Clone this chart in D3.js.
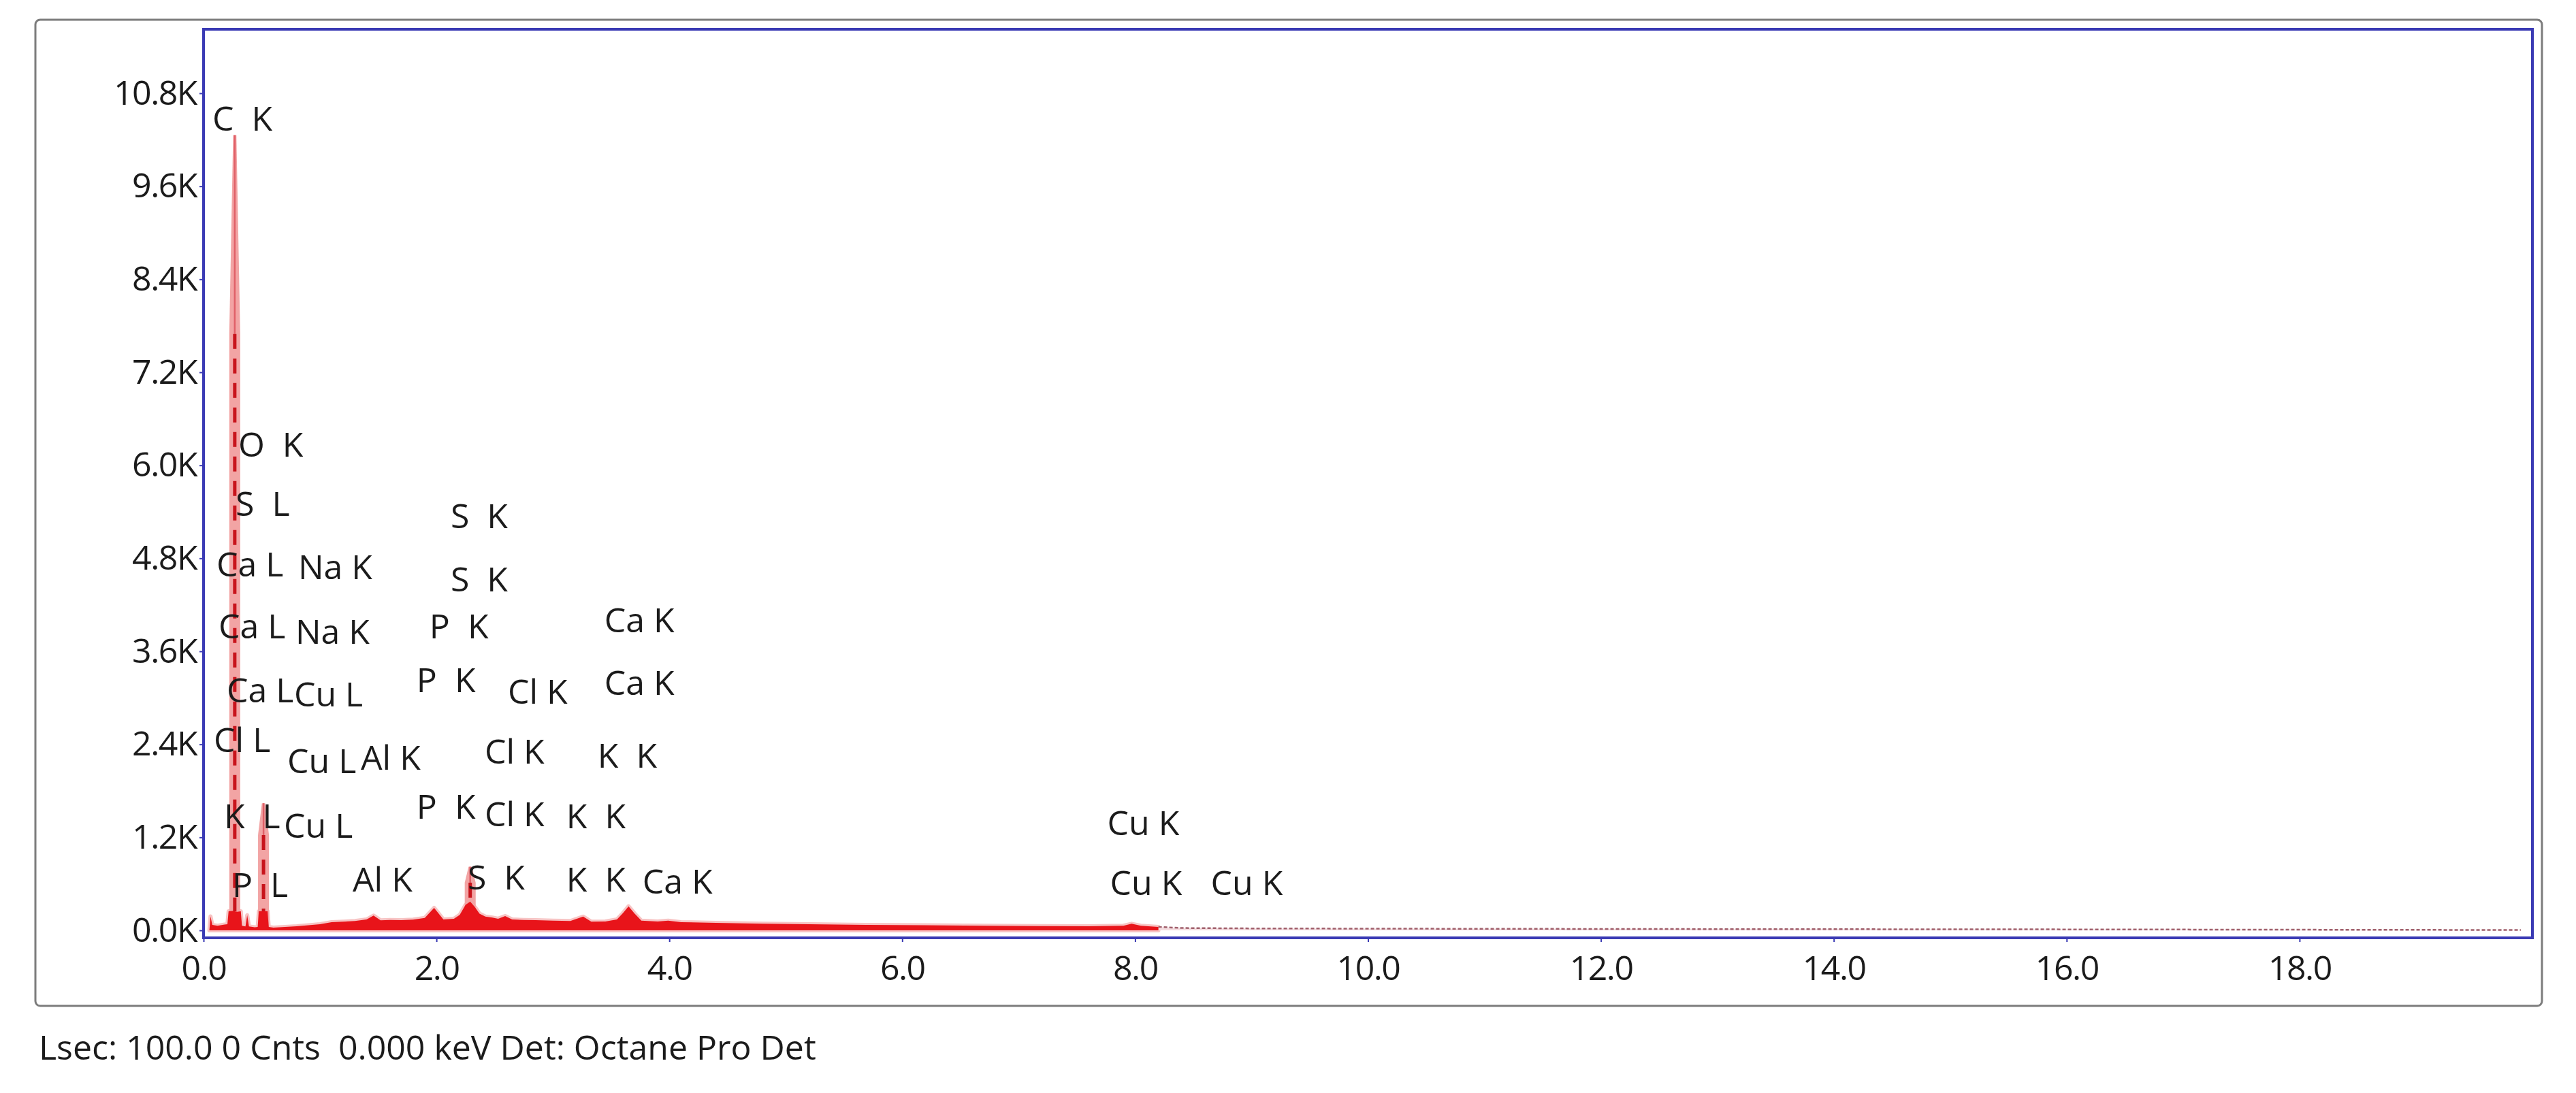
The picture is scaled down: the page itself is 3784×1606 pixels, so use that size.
<!DOCTYPE html>
<html>
<head>
<meta charset="utf-8">
<script src="https://cdn.jsdelivr.net/npm/d3@7"></script>
<style>
  body { margin: 0; background: #fff; }
  svg text { font-family: "Open Sans", "Noto Sans", sans-serif; fill: #1b1b1b; white-space: pre; }
</style>
</head>
<body>
<svg width="3784" height="1606"></svg>
<script>
// EDS spectrum (keV, counts)
var energy = [0.05, 0.06, 0.075, 0.12, 0.18, 0.205, 0.215, 0.25, 0.29, 0.32, 0.33, 0.36, 0.375, 0.39, 0.44,
  0.465, 0.475, 0.55, 0.56, 0.6, 0.7, 0.8, 0.9, 1.0, 1.1, 1.2, 1.3, 1.4, 1.46, 1.52, 1.6, 1.7, 1.8, 1.9,
  1.98, 2.06, 2.15, 2.2, 2.25, 2.29, 2.33, 2.37, 2.42, 2.48, 2.53, 2.59, 2.65, 2.75, 2.85, 3.0, 3.15,
  3.26, 3.33, 3.45, 3.55, 3.6, 3.65, 3.7, 3.76, 3.9, 3.99, 4.1, 4.4, 4.8, 5.2, 5.7, 6.2, 6.7, 7.2, 7.6,
  7.9, 7.97, 8.05, 8.2];
var counts = [0, 180, 70, 60, 75, 80, 246, 250, 240, 246, 60, 50, 196, 50, 40,
  45, 246, 246, 45, 35, 45, 52, 65, 80, 105, 112, 120, 140, 190, 130, 135, 132, 138, 160,
  290, 140, 150, 200, 330, 370, 300, 215, 178, 165, 150, 184, 140, 135, 132, 126, 120,
  178, 112, 115, 140, 220, 310, 220, 125, 115, 125, 105, 97, 85, 79, 70, 65, 60, 55, 52,
  60, 85, 60, 45];
// faint high-energy tail
var tailEnergy = [8.2, 8.4, 9.0, 10.0, 11.0, 12.0, 13.0, 14.0, 15.0, 16.0, 17.0, 18.0, 19.0, 19.9];
var tailCounts = [45, 30, 25, 22, 20, 18, 16, 15, 13, 12, 10, 8, 6, 4];

// narrow peaks
var peakKeV = [0.268, 0.515, 2.29];
var peakCounts = [10260, 1640, 820];
var peakBase = [246, 246, 370];

// peak labels: left edge (keV) and baseline (counts)
var labelText = ["C  K", "O  K", "S  L", "S  K", "Ca L", "Na K", "S  K", "Ca L", "Na K", "P  K", "Ca K",
  "Ca L", "Cu L", "P  K", "Cl K", "Ca K", "Cl L", "Cu L", "Al K", "Cl K", "K  K", "K  L", "Cu L", "P  K",
  "Cl K", "K  K", "Al K", "S  K", "K  K", "Ca K", "P  L", "Cu K", "Cu K", "Cu K"];
var labelKeV = [0.076, 0.298, 0.275, 2.122, 0.111, 0.812, 2.122, 0.129, 0.789, 1.940, 3.442,
  0.199, 0.777, 1.829, 2.613, 3.442, 0.088, 0.719, 1.350, 2.414, 3.384, 0.175, 0.690, 1.829,
  2.414, 3.115, 1.280, 2.268, 3.115, 3.770, 0.245, 7.761, 7.785, 8.650];
var labelCounts = [10320, 6110, 5350, 5190, 4570, 4530, 4370, 3770, 3700, 3770, 3850,
  2940, 2890, 3070, 2920, 3040, 2300, 2030, 2070, 2150, 2100, 1320, 1190, 1440,
  1340, 1320, 500, 530, 500, 470, 430, 1230, 460, 460];

var xTicks = [0, 2, 4, 6, 8, 10, 12, 14, 16, 18];
var xTickLabels = ["0.0", "2.0", "4.0", "6.0", "8.0", "10.0", "12.0", "14.0", "16.0", "18.0"];
var yTicks = [0, 1200, 2400, 3600, 4800, 6000, 7200, 8400, 9600, 10800];
var yTickLabels = ["0.0K", "1.2K", "2.4K", "3.6K", "4.8K", "6.0K", "7.2K", "8.4K", "9.6K", "10.8K"];

var footer = "Lsec: 100.0 0 Cnts  0.000 keV Det: Octane Pro Det";

var svg = d3.select("svg");
var plotLeft = 299, plotRight = 3720, plotTop = 43, plotBottom = 1378;

var x = d3.scaleLinear().domain([0, 20]).range([plotLeft, plotRight]);
var y = d3.scaleLinear().domain([0, 10800]).range([1367, 137]);

// outer grey panel
svg.append("rect")
  .attr("x", 52).attr("y", 29).attr("width", 3682).attr("height", 1449)
  .attr("rx", 7).attr("fill", "#fff")
  .attr("stroke", "#7c7c7c").attr("stroke-width", 3);

svg.append("clipPath").attr("id", "plot")
  .append("rect").attr("x", plotLeft).attr("y", plotTop)
  .attr("width", plotRight - plotLeft).attr("height", plotBottom - plotTop);

var g = svg.append("g").attr("clip-path", "url(#plot)");

var spec = energy.map(function(e, i) { return [e, counts[i]]; });
var tail = tailEnergy.map(function(e, i) { return [e, tailCounts[i]]; });

var area = d3.area()
  .x(function(d) { return x(d[0]); })
  .y0(y(0))
  .y1(function(d) { return y(d[1]); });
var line = d3.line()
  .x(function(d) { return x(d[0]); })
  .y(function(d) { return y(d[1]); });

// soft pink halo under the spectrum
g.append("path").datum(spec)
  .attr("d", area)
  .attr("fill", "#f6b8b8")
  .attr("stroke", "#f7c4c4").attr("stroke-width", 6).attr("stroke-linejoin", "round");

// pink columns of the narrow peaks
var peaks = peakKeV.map(function(e, i) { return { e: e, h: peakCounts[i], b: peakBase[i] }; });
g.selectAll(".peak").data(peaks).enter().append("path")
  .attr("class", "peak")
  .attr("d", function(p) {
    return line([[p.e - 0.047, 0], [p.e - 0.047, p.h * 0.75], [p.e - 0.014, p.h],
                 [p.e + 0.014, p.h], [p.e + 0.047, p.h * 0.75], [p.e + 0.047, 0]]);
  })
  .attr("fill", "#f2a4a4");

// tail
g.append("path").datum(tail)
  .attr("d", area)
  .attr("fill", "#f4dde0");
g.append("path").datum(tail)
  .attr("d", line)
  .attr("fill", "none")
  .attr("stroke", "#a0606c").attr("stroke-width", 2.5).attr("stroke-dasharray", "5,3");

// main red spectrum
g.append("path").datum(spec)
  .attr("d", area)
  .attr("fill", "#e8141a");

// peak centre lines
g.selectAll(".pk-top").data(peaks).enter().append("line")
  .attr("x1", function(p) { return x(p.e); }).attr("x2", function(p) { return x(p.e); })
  .attr("y1", function(p) { return y(p.h); }).attr("y2", function(p) { return y(p.h * 0.75); })
  .attr("stroke", "#e06068").attr("stroke-width", 2.5);
g.selectAll(".pk-mid").data(peaks).enter().append("line")
  .attr("x1", function(p) { return x(p.e); }).attr("x2", function(p) { return x(p.e); })
  .attr("y1", function(p) { return y(p.h * 0.75); }).attr("y2", function(p) { return y(p.b); })
  .attr("stroke", "#c8141c").attr("stroke-width", 5).attr("stroke-dasharray", "22,14");

// blue plot frame
svg.append("rect")
  .attr("x", plotLeft).attr("y", plotTop)
  .attr("width", plotRight - plotLeft).attr("height", plotBottom - plotTop)
  .attr("fill", "none").attr("stroke", "#3a3ab4").attr("stroke-width", 4);

// axes
var yAxis = svg.append("g")
  .attr("transform", "translate(" + plotLeft + ",0)")
  .call(d3.axisLeft(y).tickValues(yTicks)
    .tickFormat(function(d, i) { return yTickLabels[i]; })
    .tickSize(6).tickPadding(4));
var xAxis = svg.append("g")
  .attr("transform", "translate(0," + plotBottom + ")")
  .call(d3.axisBottom(x).tickValues(xTicks)
    .tickFormat(function(d, i) { return xTickLabels[i]; })
    .tickSize(6).tickPadding(20));
[yAxis, xAxis].forEach(function(a) {
  a.select(".domain").remove();
  a.selectAll(".tick line").attr("stroke", "#3a3ab4").attr("stroke-width", 2);
  a.selectAll(".tick text")
    .attr("font-family", "'Open Sans', 'Noto Sans', sans-serif")
    .attr("font-size", 50).attr("fill", "#1b1b1b")
    .attr("letter-spacing", -1.5);
});

// element labels
svg.selectAll(".lbl").data(labelText).enter().append("text")
  .attr("class", "lbl")
  .attr("xml:space", "preserve")
  .attr("x", function(d, i) { return x(labelKeV[i]); })
  .attr("y", function(d, i) { return y(labelCounts[i]); })
  .attr("font-size", 50)
  .text(function(d) { return d; });

// footer
svg.append("text")
  .attr("xml:space", "preserve")
  .attr("x", 57).attr("y", 1557)
  .attr("font-size", 50)
  .text(footer);
</script>
</body>
</html>
